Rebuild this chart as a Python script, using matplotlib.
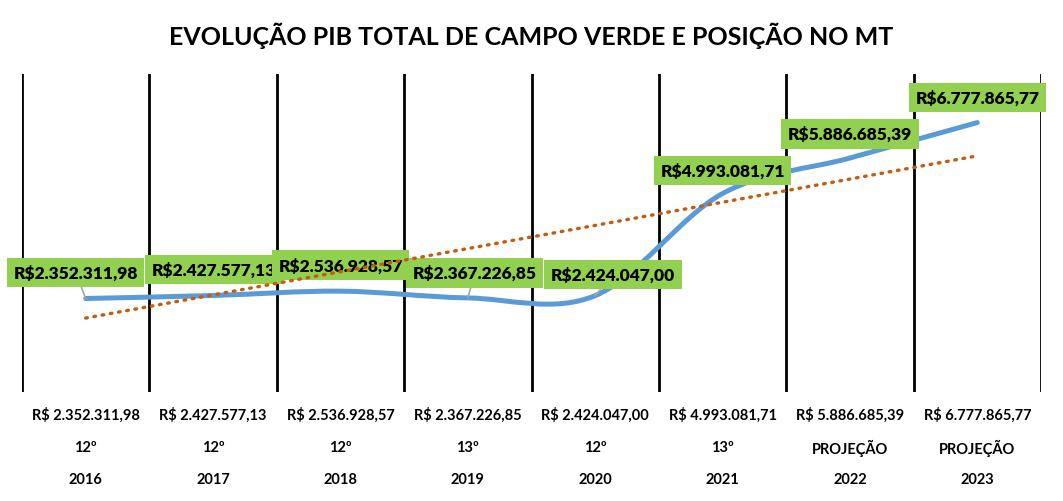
"""Evolução do PIB total de Campo Verde e posição no MT."""

import matplotlib

matplotlib.use("Agg")
import matplotlib.pyplot as plt
from matplotlib.patches import PathPatch
from matplotlib.path import Path
from matplotlib.transforms import blended_transform_factory

plt.rcParams["font.family"] = ["Lato", "DejaVu Sans"]

YEARS = ["2016", "2017", "2018", "2019", "2020", "2021", "2022", "2023"]
PIB = [2352311.98, 2427577.13, 2536928.57, 2367226.85, 2424047.00,
       4993081.71, 5886685.39, 6777865.77]
RANKS = ["12º", "12º", "12º", "13º", "12º", "13º", "PROJEÇÃO", "PROJEÇÃO"]
# trend line values at first and last year
TREND = [1.86e6, 5.94e6]

# label offsets in pixels (dx, dy) and whether a leader line is drawn
LABEL_OFFSETS = [(-10, 26), (1, 26), (0, 26), (7, 25), (18, 21), (0, 23), (0, 24), (0, 25)]
LEADERS = [True, False, False, True, True, False, False, False]

BLUE = "#5B9BD5"
ORANGE = "#C55A11"
GREEN = "#92D050"


def brl(value: float, space: bool) -> str:
    s = f"{value:,.2f}".replace(",", "X").replace(".", ",").replace("X", ".")
    return ("R$ " if space else "R$") + s


def smooth_path(xs, ys) -> Path:
    pts = list(zip(xs, ys))
    n = len(pts)
    verts = [pts[0]]
    codes = [Path.MOVETO]
    for i in range(n - 1):
        p0 = pts[i - 1] if i > 0 else pts[i]
        p1 = pts[i]
        p2 = pts[i + 1]
        p3 = pts[i + 2] if i + 2 < n else pts[i + 1]
        c1 = (p1[0] + (p2[0] - p0[0]) / 6, p1[1] + (p2[1] - p0[1]) / 6)
        c2 = (p2[0] - (p3[0] - p1[0]) / 6, p2[1] - (p3[1] - p1[1]) / 6)
        verts += [c1, c2, p2]
        codes += [Path.CURVE4] * 3
    return Path(verts, codes)


fig = plt.figure(figsize=(10.63, 5.02), dpi=100)
ax = fig.add_axes([22 / 1063, 1 - 393 / 502, 1019 / 1063, 318 / 502])
x = list(range(len(YEARS)))
ax.set_xlim(-0.5, len(YEARS) - 0.5)
ax.set_ylim(0, 8e6)
for side in ax.spines.values():
    side.set_visible(False)
ax.set_xticks([])
ax.set_yticks([])

for b in range(len(YEARS) + 1):
    ax.axvline(b - 0.5, color="black", lw=2, zorder=1)

ax.add_patch(PathPatch(smooth_path(x, PIB), fill=False, ec=BLUE, lw=3.6,
                       capstyle="round", zorder=2))

ax.plot([x[0], x[-1]], TREND, color=ORANGE, lw=2.4, ls=(0, (0.5, 2.0)),
        dash_capstyle="round", zorder=5)

for i, v in enumerate(PIB):
    dx, dy = LABEL_OFFSETS[i]
    arrow = dict(arrowstyle="-", color="#A6A6A6", lw=1.2, shrinkA=0, shrinkB=0) if LEADERS[i] else None
    ax.annotate(brl(v, False), (x[i], v), xytext=(dx, dy), textcoords="offset pixels",
                ha="center", va="center", fontsize=12.5, fontweight="heavy",
                bbox=dict(boxstyle="square,pad=0.38", fc=GREEN, ec="none"),
                arrowprops=arrow, zorder=3 + i * 0.01)

tr = blended_transform_factory(ax.transData, ax.transAxes)
for i in x:
    ax.text(i, -0.069, brl(PIB[i], True), transform=tr, ha="center", va="center",
            fontsize=10.5, fontweight="bold")
    ax.text(i, -0.173, RANKS[i], transform=tr, ha="center", va="center",
            fontsize=10.5, fontweight="bold")
    ax.text(i, -0.274, YEARS[i], transform=tr, ha="center", va="center",
            fontsize=10.5, fontweight="bold")

fig.text(0.5, 1 - 36 / 502, "EVOLUÇÃO PIB TOTAL DE CAMPO VERDE E POSIÇÃO NO MT",
         ha="center", va="center", fontsize=18, fontweight="bold")

fig.savefig("out.png", dpi=100)
